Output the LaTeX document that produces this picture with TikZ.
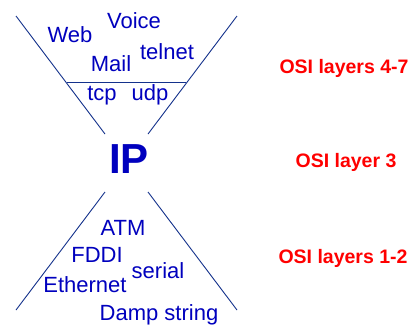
\documentclass[tikz,border=0pt]{standalone}
\usepackage{fontspec}
\setmainfont{Liberation Sans}
\definecolor{proto}{RGB}{0,0,190}
\definecolor{funnel}{RGB}{20,50,140}
\definecolor{layer}{RGB}{255,0,0}
\begin{document}
\begin{tikzpicture}[x=1pt,y=-1pt,
  proto/.style={text=proto,font=\fontsize{22}{22}\selectfont,anchor=base,inner sep=0pt},
  iplabel/.style={text=proto,font=\fontsize{42}{42}\selectfont\bfseries,anchor=base,inner sep=0pt},
  osi/.style={text=layer,font=\fontsize{19.5}{19.5}\selectfont\bfseries,anchor=base,inner sep=0pt},
  edge/.style={draw=funnel,line width=0.9pt}]
\useasboundingbox[fill=white] (0,0) rectangle (418,325);

% upper funnel
\coordinate (ul1) at (16,16);
\coordinate (ul2) at (105,134);
\coordinate (ur1) at (237,16);
\coordinate (ur2) at (148,134);
\coordinate (hl) at (67,82);
\coordinate (hr) at (186,82);
\draw[edge] (ul1) -- (ul2);
\draw[edge] (ur1) -- (ur2);
\draw[edge] (hl) -- (hr);

% lower funnel
\coordinate (ll1) at (105,192);
\coordinate (ll2) at (16,310);
\coordinate (lr1) at (148,192);
\coordinate (lr2) at (237,310);
\draw[edge] (ll1) -- (ll2);
\draw[edge] (lr1) -- (lr2);

% applications
\node[proto] (web) at (70,42) {Web};
\node[proto] (voice) at (134,28) {Voice};
\node[proto] (mail) at (111,71) {Mail};
\node[proto] (telnet) at (167,59) {telnet};
\node[proto] (tcp) at (102,100) {tcp};
\node[proto] (udp) at (150,100) {udp};

% network layer
\node[iplabel] (ip) at (129,173) {IP};

% link layer
\node[proto] (atm) at (123,235) {ATM};
\node[proto] (fddi) at (97,262) {FDDI};
\node[proto] (serial) at (158,278) {serial};
\node[proto] (ether) at (85,292) {Ethernet};
\node[proto] (damp) at (159,320) {Damp string};

% layer labels
\node[osi] (osi47) at (344,73) {OSI layers 4-7};
\node[osi] (osi3) at (346,167) {OSI layer 3};
\node[osi] (osi12) at (343,263) {OSI layers 1-2};
\end{tikzpicture}
\end{document}
